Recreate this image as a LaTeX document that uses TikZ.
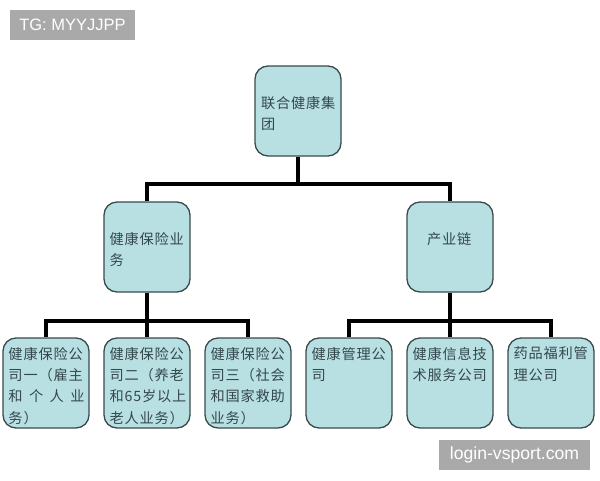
\documentclass[tikz,border=0pt]{standalone}
\usepackage{fontspec}
\setmainfont{Liberation Sans}
\newfontfamily\cjk[LetterSpace=6]{Noto Sans CJK SC}
\definecolor{boxfill}{HTML}{B8E0E3}
\definecolor{boxline}{HTML}{3A4A4C}
\definecolor{boxtext}{HTML}{34474C}
\definecolor{wmark}{HTML}{A9A9A9}
\tikzset{
  orgbox/.style={draw=boxline,fill=boxfill,line width=1.3pt,rounded corners=13pt,
    minimum width=86pt,minimum height=90pt,inner sep=0pt,text=boxtext},
  conn/.style={draw=black,line width=3.6pt,line join=miter},
  wm/.style={fill=wmark,text=white,inner sep=0pt}
}
% #1 left margin, #2 top offset, #3 lines
\newcommand{\boxcontent}[3]{\parbox[c][90pt][t]{86pt}{\cjk\fontsize{14.2}{21.4}\selectfont
  \parindent=0pt\leftskip=#1pt\rightskip=0pt plus 1fil\vspace*{#2pt}#3\par}}
\newcommand{\spreadline}[1]{\makebox[76pt][s]{#1}}
\begin{document}
\begin{tikzpicture}[x=1pt,y=-1pt]
\useasboundingbox (0,0) rectangle (600,480);
\fill[white] (0,0) rectangle (600,480);
% watermarks
\node[wm,font=\fontsize{16.5}{20}\selectfont,minimum width=125pt,minimum height=30pt] (wma) at (72.5,25) {TG: MYYJJPP};
\node[wm,font=\fontsize{17.6}{20}\selectfont,minimum width=151pt,minimum height=30pt] (wmb) at (514.5,455) {login-vsport.com};
% connector junctions
\coordinate (bus) at (298,184);
\coordinate (busl) at (147,321);
\coordinate (busr) at (450,321);
% boxes
\node[orgbox] (root) at (298,111) {\boxcontent{6}{30.5}{联合健康集\par 团}};
\node[orgbox] (ins) at (147,247) {\boxcontent{5.5}{30.5}{健康保险业\par 务}};
\node[orgbox] (chain) at (450,247) {\boxcontent{20}{30.5}{产业链}};
\node[orgbox] (a) at (46,383) {\boxcontent{5.5}{9}{健康保险公\par 司一（雇主\par \spreadline{和\hfil 个\hfil 人\hfil 业}\par 务）}};
\node[orgbox] (b) at (147,383) {\boxcontent{5.5}{9}{健康保险公\par 司二（养老\par 和65岁以上\par 老人业务）}};
\node[orgbox] (c) at (248,383) {\boxcontent{5.5}{9}{健康保险公\par 司三（社会\par 和国家救助\par 业务）}};
\node[orgbox] (d) at (349,383) {\boxcontent{5.5}{9}{健康管理公\par 司}};
\node[orgbox] (e) at (450,383) {\boxcontent{5.5}{9}{健康信息技\par 术服务公司}};
\node[orgbox] (f) at (551,383) {\boxcontent{5.5}{9}{药品福利管\par 理公司}};
% connectors
\draw[conn] (root.south) -- (bus);
\draw[conn] (ins.north) |- (bus) -| (chain.north);
\draw[conn] (ins.south) -- (busl);
\draw[conn] (chain.south) -- (busr);
\draw[conn] (a.north) |- (busl) -| (c.north);
\draw[conn] (busl) -- (b.north);
\draw[conn] (d.north) |- (busr) -| (f.north);
\draw[conn] (busr) -- (e.north);
\end{tikzpicture}
\end{document}
